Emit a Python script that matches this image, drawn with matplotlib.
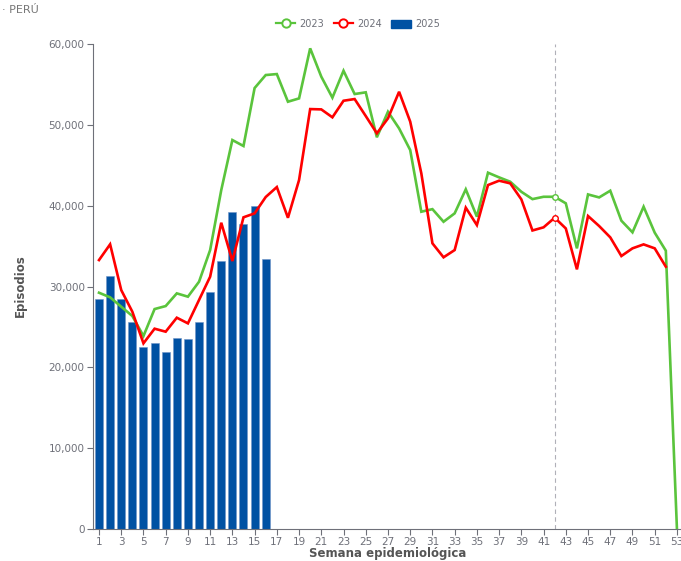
import matplotlib
matplotlib.use("Agg")
import matplotlib.pyplot as plt
from matplotlib.lines import Line2D
from matplotlib.patches import FancyBboxPatch
from matplotlib.ticker import FuncFormatter

weeks = list(range(1, 54))

y2023 = [29230, 28660, 27500, 26350, 23870, 27210, 27580, 29150, 28740, 30590,
         34510, 41930, 48120, 47380, 54550, 56160, 56280, 52860, 53270, 59460,
         55960, 53360, 56690, 53810, 54020, 48460, 51620, 49560, 46880, 39250,
         39570, 38010, 39050, 42020, 38640, 44080, 43500, 42960, 41720, 40810,
         41100, 41100, 40290, 34720, 41390, 41020, 41850, 38140, 36700, 39870,
         36660, 34430, 0]

y2024 = [33270, 35220, 29560, 26880, 22970, 24780, 24410, 26140, 25440, 28330,
         31210, 37890, 33150, 38560, 39050, 41070, 42300, 38500, 43170, 51950,
         51910, 50930, 52980, 53190, 51090, 48950, 50800, 54090, 50400, 44000,
         35340, 33610, 34510, 39750, 37600, 42550, 43090, 42760, 40780, 36930,
         37320, 38510, 37180, 32120, 38720, 37480, 36080, 33770, 34720, 35210,
         34720, 32450]

y2025 = [28400, 31300, 28450, 25650, 22500, 22970, 21860, 23630, 23460, 25600,
         29280, 33190, 39210, 37690, 39950, 33400]

highlight_week = 42
title_text = "· PERÚ"
xlabel_text = "Semana epidemiológica"
ylabel_text = "Episodios"
yticks = [0, 10000, 20000, 30000, 40000, 50000, 60000]
xtick_labels = list(range(1, 54, 2))

green = "#5ac43c"
red = "#ff0000"
blue = "#0051a3"
gray_text = "#6e7079"
axis_gray = "#6e7079"

fig = plt.figure(figsize=(6.81, 5.61), dpi=100)
ax = fig.add_axes([93/681, 32/561, 589.5/681, 485/561])

ax.bar(weeks[:len(y2025)], y2025, width=0.72, color=blue, edgecolor="#6f95c8",
       linewidth=0.4, zorder=2)
ax.plot(weeks[:len(y2023)], y2023, color=green, lw=1.9, zorder=3,
        solid_joinstyle="miter")
ax.plot(weeks[:len(y2024)], y2024, color=red, lw=1.9, zorder=4,
        solid_joinstyle="miter")

ax.axvline(highlight_week, color="#b0b0b8", lw=0.8, ls=(0, (4, 3)), zorder=1)
ax.plot([highlight_week], [y2023[highlight_week - 1]], marker="o", ms=4,
        mfc="white", mec=green, mew=1.0, zorder=5)
ax.plot([highlight_week], [y2024[highlight_week - 1]], marker="o", ms=4,
        mfc="white", mec=red, mew=1.0, zorder=5)

ax.set_xlim(0.46, 53.5)
ax.set_ylim(0, 60000)
ax.set_yticks(yticks)
ax.yaxis.set_major_formatter(FuncFormatter(lambda v, p: f"{int(v):,}"))
ax.set_xticks(xtick_labels)
ax.set_xticklabels([str(w) for w in xtick_labels])

for s in ["top", "right"]:
    ax.spines[s].set_visible(False)
for s in ["left", "bottom"]:
    ax.spines[s].set_color(axis_gray)
    ax.spines[s].set_linewidth(0.8)

ax.tick_params(axis="both", colors=axis_gray, labelcolor=gray_text,
               labelsize=7.5, length=4, width=0.8, direction="out")
ax.tick_params(axis="x", pad=2)
ax.tick_params(axis="y", pad=2)

fig.text(388/681, 1 - 553/561, xlabel_text, fontsize=8.5, fontweight="bold",
         color="#555555", ha="center", va="center")
fig.text(20/681, 1 - 286/561, ylabel_text, fontsize=8.5, fontweight="bold",
         color="#555555", ha="center", va="center", rotation=90)

fig.text(2/681, 1 - 10/561, title_text, fontsize=8, color="#777777",
         ha="left", va="center")

# legend
handles = [
    Line2D([0], [0], color=green, lw=1.6, marker="o", ms=6, mfc="white",
           mec=green, mew=1.4),
    Line2D([0], [0], color=red, lw=1.6, marker="o", ms=6, mfc="white",
           mec=red, mew=1.4),
    FancyBboxPatch((0, 0), 1, 1, boxstyle="round,pad=0,rounding_size=0.2",
                   facecolor=blue, edgecolor=blue),
]
leg = fig.legend(handles, ["2023", "2024", "2025"], loc="center",
                 bbox_to_anchor=(358/681, 1 - 24/561), ncol=3, frameon=False,
                 fontsize=7, handlelength=2.0, handleheight=0.9,
                 columnspacing=0.95, handletextpad=0.45)
for t in leg.get_texts():
    t.set_color(gray_text)

fig.savefig("out.png", dpi=100)
